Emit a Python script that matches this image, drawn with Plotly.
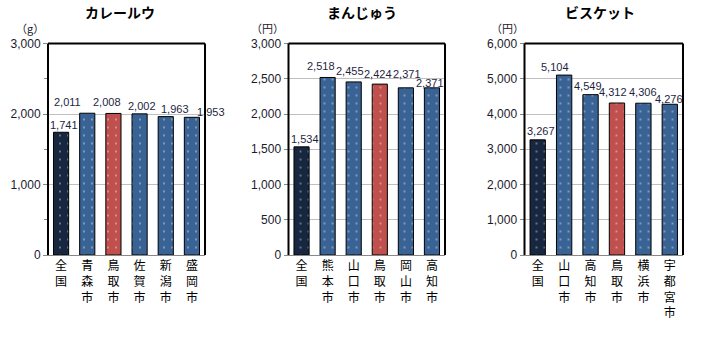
import plotly.graph_objects as go

# ---- data ----
titles = ["カレールウ", "まんじゅう", "ビスケット"]
units = ["（g）", "（円）", "（円）"]

cats1 = ["全国", "青森市", "鳥取市", "佐賀市", "新潟市", "盛岡市"]
vals1 = [1741, 2011, 2008, 2002, 1963, 1953]

cats2 = ["全国", "熊本市", "山口市", "鳥取市", "岡山市", "高知市"]
vals2 = [1534, 2518, 2455, 2424, 2371, 2371]

cats3 = ["全国", "山口市", "高知市", "鳥取市", "横浜市", "宇都宮市"]
vals3 = [3267, 5104, 4549, 4312, 4306, 4276]

yranges = [[0, 3000], [0, 3000], [0, 6000]]
ydticks = [1000, 500, 1000]

# ---- style / layout (pixels in the 710x340 reference) ----
NAVY = "#17273f"
BLUE = "#3a6395"
RED = "#c0504d"
W, H = 710, 340


def px(x):
    return x / W


def py(y):
    return 1 - y / H


xdomains = [(px(48), px(205)), (px(288.5), px(445)), (px(524.5), px(683))]
ydomain = (py(255), py(43.5))
title_x = [120, 362, 600]
unit_x = [30, 267, 507]

# label offsets (pixels) of data labels relative to bar top centre
label_dx = [[3, -20, -6.5, 2.7, 9.3, 19.5],
            [3.3, -7, -4, -2, 1, -2],
            [2.8, -8.7, -2.7, -3.6, -0.5, -1]]
label_dy = [[7, 11.5, 11.7, 8, 7.6, 5.6],
            [7.6, 11.8, 11.2, 10.1, 13.8, 4.5],
            [9.1, 7.8, 8.6, 10.7, 10.9, 5]]

fig = go.Figure()
datasets = [(cats1, vals1), (cats2, vals2), (cats3, vals3)]

for i, (cats, vals) in enumerate(datasets):
    n = "" if i == 0 else str(i + 1)
    colors = [NAVY if c == "全国" else (RED if c == "鳥取市" else BLUE) for c in cats]
    dotcol = ["#2a3a9a" if c == "全国" else "#6a4a9a" for c in cats]
    ticktext = ["<br>".join(list(c)) for c in cats]
    fig.add_trace(go.Bar(
        x=cats, y=vals,
        xaxis="x" + n, yaxis="y" + n,
        marker=dict(color=colors, line=dict(color="black", width=1),
                    pattern=dict(shape=".", fgcolor=dotcol, bgcolor=colors,
                                 size=8, solidity=0.04)),
        showlegend=False, hoverinfo="skip",
    ))
    for j, (c, v) in enumerate(zip(cats, vals)):
        fig.add_annotation(
            x=c, y=v, xref="x" + n, yref="y" + n, text=f"{v:,}",
            showarrow=False, xanchor="center", yanchor="middle",
            xshift=label_dx[i][j], yshift=label_dy[i][j],
            font=dict(family="Liberation Sans, Arial", size=11, color="#1f1f3f"),
        )
    fig.layout["xaxis" + n] = dict(
        domain=list(xdomains[i]), anchor="y" + n, automargin=False,
        range=[-0.5, len(cats) - 0.5],
        tickmode="array", tickvals=cats, ticktext=ticktext,
        tickfont=dict(family="Noto Sans CJK JP", size=12, color="black"),
        showline=True, linecolor="#888888", linewidth=1,
        ticks="", showgrid=False, fixedrange=True,
    )
    yax = dict(
        domain=list(ydomain), anchor="x" + n, automargin=False,
        range=yranges[i], dtick=ydticks[i], tickformat=",d",
        tickfont=dict(family="Liberation Sans, Arial", size=12, color="#1a1a2e"),
        showline=True, linecolor="#888888", linewidth=1,
        ticks="outside", ticklen=4, tickcolor="#888888",
        showgrid=True, gridcolor="#c0c0c0", gridwidth=1,
        zeroline=False, fixedrange=True,
    )
    if i == 0:
        yax["minor"] = dict(dtick=500, ticks="outside", ticklen=3,
                            tickcolor="#888888", showgrid=False)
    fig.layout["yaxis" + n] = yax

    # plot border: top, right, left in black
    for (x0, y0, x1, y1) in [(0, 1, 1, 1), (1, 0, 1, 1), (0, 0, 0, 1)]:
        fig.add_shape(type="line", xref="x" + n + " domain", yref="y" + n + " domain",
                      x0=x0, y0=y0, x1=x1, y1=y1,
                      line=dict(color="black", width=2), layer="above")

    fig.add_annotation(text="<b>" + titles[i] + "</b>", xref="paper", yref="paper",
                       x=px(title_x[i]), y=py(12.5), showarrow=False,
                       xanchor="center", yanchor="middle",
                       font=dict(family="Noto Sans CJK JP", size=14, color="black"))
    fig.add_annotation(text=units[i], xref="paper", yref="paper",
                       x=px(unit_x[i]), y=py(28), showarrow=False,
                       xanchor="center", yanchor="middle",
                       font=dict(family="Noto Sans CJK JP", size=11, color="#1a1a2e"))

fig.update_layout(
    width=W, height=H, margin=dict(l=0, r=0, t=0, b=0, autoexpand=False),
    paper_bgcolor="white", plot_bgcolor="white",
    bargap=0.42,
)

fig.write_html("out.html",
               config={"displayModeBar": False, "staticPlot": True},
               post_script="document.body.style.margin='0';document.body.style.overflow='hidden';")
